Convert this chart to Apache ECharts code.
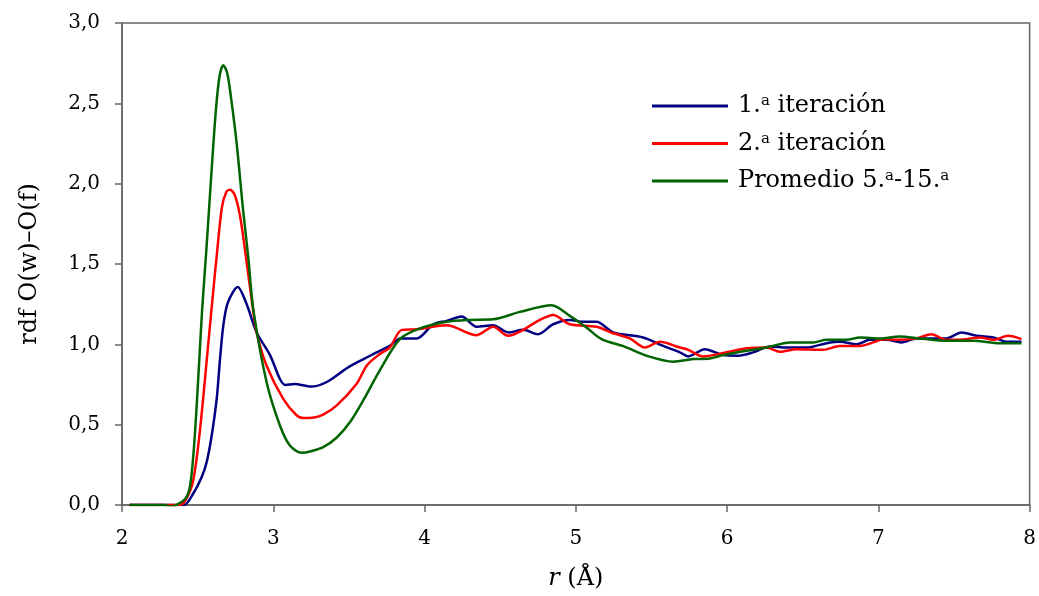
<!DOCTYPE html>
<html>
<head>
<meta charset="utf-8">
<script src="https://cdn.jsdelivr.net/npm/echarts@6/dist/echarts.min.js"></script>
<style>
  html, body { margin: 0; padding: 0; background: #fff; }
  #chart { width: 1039px; height: 596px; }
</style>
</head>
<body>
<div id="chart"></div>
<script>
// datos: r (Å) y rdf para cada serie
var rIter1 = [2.05, 2.2, 2.35, 2.41, 2.47, 2.527, 2.56, 2.593, 2.626, 2.648, 2.67, 2.70, 2.765, 2.82, 2.89, 2.98, 3.044, 3.08, 3.14, 3.25, 3.35, 3.5, 3.64, 3.705, 3.77, 3.84, 3.948, 4.058, 4.146, 4.245, 4.344, 4.454, 4.553, 4.652, 4.75, 4.85, 4.96, 5.049, 5.137, 5.247, 5.445, 5.578, 5.688, 5.743, 5.853, 5.974, 6.073, 6.172, 6.283, 6.393, 6.525, 6.657, 6.746, 6.856, 6.944, 7.054, 7.153, 7.252, 7.362, 7.45, 7.55, 7.649, 7.76, 7.847, 7.946];
var gIter1 = [0, 0, 0, 0, 0.07, 0.175, 0.268, 0.433, 0.66, 0.908, 1.12, 1.26, 1.357, 1.26, 1.074, 0.93, 0.784, 0.747, 0.753, 0.737, 0.764, 0.86, 0.929, 0.96, 0.99, 1.037, 1.037, 1.125, 1.146, 1.173, 1.11, 1.119, 1.074, 1.09, 1.063, 1.125, 1.152, 1.14, 1.14, 1.074, 1.043, 0.99, 0.95, 0.925, 0.97, 0.933, 0.929, 0.95, 0.987, 0.98, 0.98, 1.007, 1.016, 1.001, 1.028, 1.028, 1.012, 1.037, 1.037, 1.037, 1.074, 1.053, 1.043, 1.016, 1.016];

var rIter2 = [2.05, 2.3, 2.38, 2.42, 2.47, 2.514, 2.567, 2.608, 2.625, 2.66, 2.69, 2.714, 2.745, 2.78, 2.82, 2.857, 2.89, 2.956, 3.066, 3.155, 3.2, 3.27, 3.33, 3.42, 3.55, 3.62, 3.705, 3.77, 3.85, 3.948, 4.146, 4.344, 4.454, 4.553, 4.652, 4.75, 4.85, 4.96, 5.137, 5.247, 5.357, 5.457, 5.556, 5.688, 5.743, 5.842, 5.974, 6.129, 6.26, 6.349, 6.459, 6.635, 6.746, 6.878, 6.966, 7.032, 7.142, 7.252, 7.351, 7.45, 7.56, 7.671, 7.76, 7.858, 7.946];
var gIter2 = [0, 0, 0, 0.03, 0.15, 0.454, 0.97, 1.38, 1.54, 1.85, 1.95, 1.962, 1.93, 1.8, 1.54, 1.28, 1.074, 0.867, 0.66, 0.557, 0.542, 0.545, 0.563, 0.62, 0.753, 0.87, 0.94, 0.98, 1.09, 1.094, 1.119, 1.057, 1.11, 1.053, 1.09, 1.146, 1.183, 1.125, 1.11, 1.069, 1.037, 0.98, 1.016, 0.98, 0.966, 0.925, 0.946, 0.975, 0.98, 0.954, 0.97, 0.966, 0.99, 0.99, 1.012, 1.032, 1.028, 1.037, 1.063, 1.028, 1.03, 1.043, 1.028, 1.053, 1.032];

var rProm = [2.05, 2.28, 2.32, 2.36, 2.42, 2.45, 2.475, 2.50, 2.53, 2.56, 2.59, 2.62, 2.645, 2.67, 2.695, 2.72, 2.758, 2.80, 2.835, 2.868, 2.956, 3.044, 3.11, 3.188, 3.25, 3.33, 3.42, 3.51, 3.6, 3.705, 3.837, 3.97, 4.146, 4.278, 4.454, 4.63, 4.84, 4.96, 5.07, 5.17, 5.31, 5.468, 5.644, 5.776, 5.886, 5.974, 6.129, 6.26, 6.415, 6.569, 6.657, 6.79, 6.878, 7.01, 7.142, 7.274, 7.45, 7.627, 7.803, 7.946];
var gProm = [0, 0, -0.01, 0, 0.04, 0.12, 0.35, 0.72, 1.22, 1.62, 2.05, 2.45, 2.67, 2.737, 2.69, 2.54, 2.25, 1.84, 1.54, 1.218, 0.764, 0.495, 0.37, 0.325, 0.335, 0.36, 0.42, 0.52, 0.66, 0.84, 1.032, 1.099, 1.14, 1.152, 1.156, 1.202, 1.243, 1.177, 1.105, 1.032, 0.99, 0.929, 0.892, 0.908, 0.912, 0.933, 0.96, 0.98, 1.012, 1.012, 1.028, 1.028, 1.043, 1.037, 1.049, 1.037, 1.022, 1.022, 1.007, 1.007];

var nombres = ['1.ª iteración', '2.ª iteración', 'Promedio 5.ª-15.ª'];
var colores = ['#000080', '#ff0000', '#006400'];

function pares(xs, ys) {
  return xs.map(function (x, i) { return [x, ys[i]]; });
}

var fuente = 'DejaVu Serif';
var myChart = echarts.init(document.getElementById('chart'));

var option = {
  animation: false,
  textStyle: { fontFamily: fuente, color: '#000' },
  grid: {
    left: 122, right: 9, top: 23, bottom: 90,
    show: true, borderColor: '#666', borderWidth: 1.5
  },
  legend: {
    left: 647, top: 89,
    orient: 'vertical',
    itemWidth: 76, itemHeight: 3,
    itemGap: 13.5,
    icon: 'rect',
    data: nombres,
    formatter: function (n) { return n.replace(/ª/g, '{s|a}'); },
    textStyle: {
      fontFamily: fuente, fontSize: 24, color: '#000', padding: [0, 0, 0, 5],
      rich: { s: { fontFamily: fuente, fontSize: 15, verticalAlign: 'top' } }
    }
  },
  xAxis: {
    type: 'value', min: 2, max: 8, interval: 1,
    name: '{i|r} (Å)',
    nameLocation: 'middle', nameGap: 62,
    nameTextStyle: {
      fontFamily: fuente, fontSize: 24, color: '#000',
      rich: { i: { fontFamily: fuente, fontSize: 24, fontStyle: 'italic' } }
    },
    axisLine: { lineStyle: { color: '#666', width: 1.5 } },
    axisTick: { length: 7, lineStyle: { color: '#666', width: 1.5 } },
    axisLabel: { fontFamily: fuente, fontSize: 20, color: '#000', margin: 24 },
    splitLine: { show: false }
  },
  yAxis: {
    type: 'value', min: 0, max: 3, interval: 0.5,
    name: 'rdf O(w)–O(f)',
    nameLocation: 'middle', nameGap: 80,
    nameTextStyle: { fontFamily: fuente, fontSize: 24, color: '#000' },
    axisLine: { lineStyle: { color: '#666', width: 1.5 } },
    axisTick: { length: 7, lineStyle: { color: '#666', width: 1.5 } },
    axisLabel: {
      fontFamily: fuente, fontSize: 20, color: '#000', margin: 22,
      formatter: function (v) { return v.toFixed(1).replace('.', ','); }
    },
    splitLine: { show: false }
  },
  series: [
    { name: nombres[0], type: 'line', data: pares(rIter1, gIter1) },
    { name: nombres[1], type: 'line', data: pares(rIter2, gIter2) },
    { name: nombres[2], type: 'line', data: pares(rProm, gProm) }
  ].map(function (s, i) {
    s.smooth = 0.3;
    s.showSymbol = false;
    s.symbol = 'none';
    s.color = colores[i];
    s.lineStyle = { width: 2.5, color: colores[i] };
    return s;
  })
};

myChart.setOption(option);
</script>
</body>
</html>
